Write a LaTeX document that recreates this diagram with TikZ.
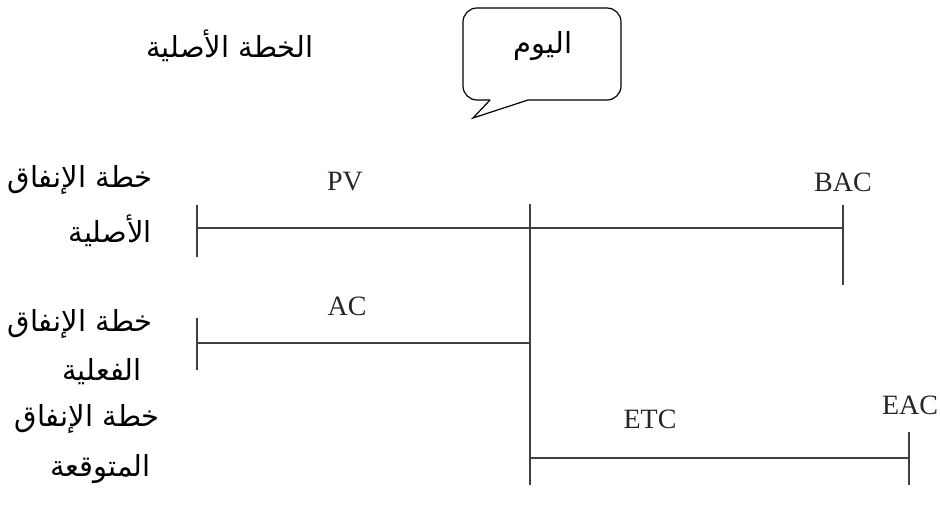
\documentclass[tikz,border=0pt]{standalone}
\usepackage{fontspec}
\setmainfont{Liberation Serif}
\newfontfamily\arabicfont[Script=Arabic]{DejaVu Sans}
\TeXXeTstate=1
\begin{document}
\begin{tikzpicture}[x=1pt,y=-1pt,
  bar/.style={draw=black!75, line width=1.3pt},
  lat/.style={font=\fontsize{28}{32}\selectfont, text=black!85, inner sep=0pt},
  arb/.style={font=\arabicfont\fontsize{29}{34}\selectfont, inner sep=0pt, align=right}]
\useasboundingbox (0,0) rectangle (940,512);

% callout bubble for the current date
\draw[line width=1.2pt, rounded corners=14pt]
  (490,100) -- (463,100) -- (463,8) -- (621,8) -- (621,100) -- (528,100);
\draw[line width=1.2pt, line join=miter] (490,100) -- (473,118) -- (528,100);
\node[arb] (today) at (543,46) {\beginR اليوم\endR};

\node[arb] (plan) at (230,46) {\beginR الخطة الأصلية\endR};

% row labels
\node[arb, anchor=east] (r1a) at (153,180) {\beginR خطة الإنفاق\endR};
\node[arb, anchor=east] (r1b) at (152,231) {\beginR الأصلية\endR};
\node[arb, anchor=east] (r2a) at (153,324) {\beginR خطة الإنفاق\endR};
\node[arb, anchor=east] (r2b) at (142,372) {\beginR الفعلية\endR};
\node[arb, anchor=east] (r3a) at (160,419) {\beginR خطة الإنفاق\endR};
\node[arb, anchor=east] (r3b) at (151,469) {\beginR المتوقعة\endR};

% planned value bar
\coordinate (pvL) at (197,228);
\coordinate (pvR) at (843,228);
\draw[bar] (197,205) -- (197,257);
\draw[bar] (843,205) -- (843,285);
\draw[bar] (pvL) -- (pvR);
\node[lat] (pv) at (345,182) {PV};
\node[lat] (bac) at (843,182) {BAC};

% actual cost bar
\coordinate (acL) at (197,343);
\coordinate (acR) at (530,343);
\draw[bar] (197,318) -- (197,370);
\draw[bar] (acL) -- (acR);
\node[lat] (ac) at (347,306) {AC};

% today line
\coordinate (nowT) at (530,204);
\coordinate (nowB) at (530,485);
\draw[bar] (nowT) -- (nowB);

% estimate to complete bar
\coordinate (etcL) at (530,458);
\coordinate (etcR) at (909,458);
\draw[bar] (909,432) -- (909,485);
\draw[bar] (etcL) -- (etcR);
\node[lat] (etc) at (650,419) {ETC};
\node[lat] (eac) at (910,405) {EAC};
\end{tikzpicture}
\end{document}
